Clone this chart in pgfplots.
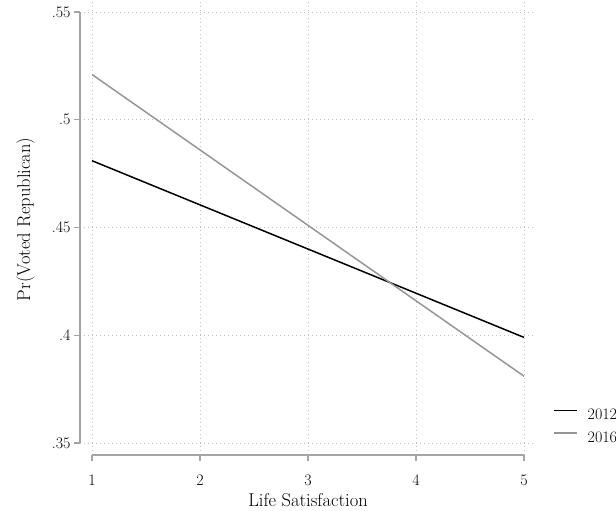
\documentclass[border=0pt]{standalone}
\usepackage{pgfplots}
\pgfplotsset{compat=1.18}
\definecolor{g16}{RGB}{150,150,150}
\definecolor{axc}{RGB}{165,165,165}
\definecolor{grd}{RGB}{195,195,195}
\begin{document}
\begin{tikzpicture}
\begin{axis}[
  scale only axis, width=456pt, height=455pt,
  xmin=0.8889, xmax=5.1111, ymin=0.34443, ymax=0.55557,
  xtick={1,2,3,4,5}, ytick={0.35,0.4,0.45,0.5,0.55},
  xticklabels={1,2,3,4,5},
  yticklabels={.35,.4,.45,.5,.55},
  axis line style={draw=none},
  xtick pos=bottom, ytick pos=left,
  tick align=outside, major tick length=6pt,
  tick style={color=axc, line width=1.1pt},
  grid=major,
  major grid style={color=grd, line width=0.9pt, dash pattern=on 0.9pt off 3.1pt},
  every tick label/.append style={font=\fontsize{16}{19}\selectfont},
  xticklabel style={yshift=-10pt},
  xlabel={Life Satisfaction}, ylabel={Pr(Voted Republican)},
  label style={font=\fontsize{18.5}{22}\selectfont},
  xlabel style={at={(rel axis cs:0.5,-0.1121)}, anchor=base},
  ylabel style={at={(rel axis cs:-0.1096,0.518)}, anchor=base, rotate=0},
  legend style={draw=none, fill=none, at={(rel axis cs:1.0307,0.1055)}, anchor=north west,
    nodes={inner sep=0pt, text height=10.5pt, text depth=0pt, anchor=base west},
    row sep=12pt, column sep=10pt, font=\fontsize{16}{19}\selectfont},
  legend image code/.code={\draw[#1] (0pt,9pt) -- (23pt,9pt);},
  clip=false,
]
\addplot[black, line width=1.5pt] coordinates {(1,0.481) (2,0.4605) (3,0.440) (4,0.4195) (5,0.399)};
\addlegendentry{2012}
\addplot[g16, line width=1.5pt] coordinates {(1,0.521) (2,0.486) (3,0.451) (4,0.416) (5,0.381)};
\addlegendentry{2016}
\draw[axc, line width=1.3pt] (axis cs:0.8889,0.35) -- (axis cs:0.8889,0.55);
\draw[axc, line width=1.3pt] (axis cs:1,0.34443) -- (axis cs:5,0.34443);
\end{axis}
\pgfresetboundingbox
\useasboundingbox (-80pt,-56pt) rectangle (536pt,455pt);
\end{tikzpicture}
\end{document}
